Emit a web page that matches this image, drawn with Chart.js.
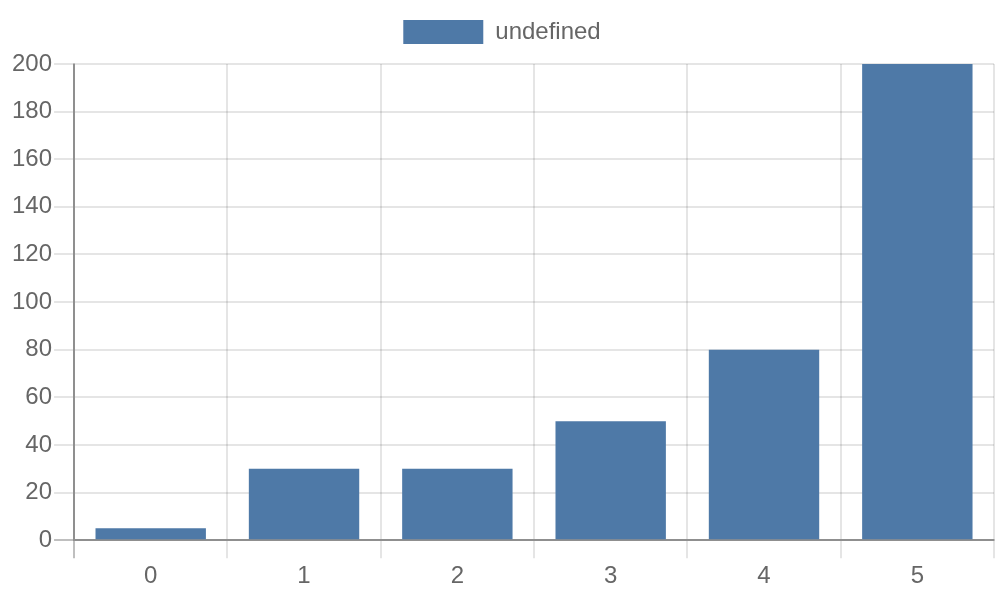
<!DOCTYPE html>
<html><head><meta charset="utf-8">
<script src="https://cdn.jsdelivr.net/npm/chart.js@4"></script>
<style>html,body{margin:0;padding:0;background:#fff}#w{width:1000px;height:600px}</style>
</head><body><div id="w"><canvas id="c" width="1000" height="600"></canvas></div>
<script>
const categories = ["0","1","2","3","4","5"];
const values = [5, 30, 30, 50, 80, 200];
const seriesLabel = "undefined";
Chart.defaults.font.family = "'Liberation Sans', Arial, sans-serif";
Chart.defaults.font.size = 24;
Chart.defaults.color = "#666";
const gridCol = ctx => ctx.index === 0 ? 'rgba(0,0,0,0.25)' : 'rgba(0,0,0,0.1)';
const legendMargin = {
  id: 'legendMargin',
  beforeInit(chart) {
    const fit = chart.legend.fit;
    chart.legend.fit = function () { fit.bind(chart.legend)(); this.height += 10; };
  }
};
new Chart(document.getElementById('c'), {
  type: 'bar',
  data: { labels: categories, datasets: [{ label: seriesLabel, data: values, backgroundColor: '#4e79a7', borderWidth: 0 }] },
  options: {
    responsive: false, animation: false,
    layout: { padding: { left: 10, right: 6, top: 0, bottom: 5 } },
    plugins: { legend: { labels: { boxWidth: 80, boxHeight: 24, padding: 20 } }, tooltip: { enabled: false } },
    scales: {
      x: { grid: { color: gridCol, tickLength: 18, lineWidth: 2 }, border: { color: 'rgba(0,0,0,0.25)', width: 2 }, ticks: { padding: 4 } },
      y: { min: 0, max: 200, ticks: { stepSize: 20, padding: 2 }, grid: { color: gridCol, tickLength: 20, lineWidth: 2 }, border: { color: 'rgba(0,0,0,0.25)', width: 2 } }
    }
  },
  plugins: [legendMargin]
});
</script></body></html>
